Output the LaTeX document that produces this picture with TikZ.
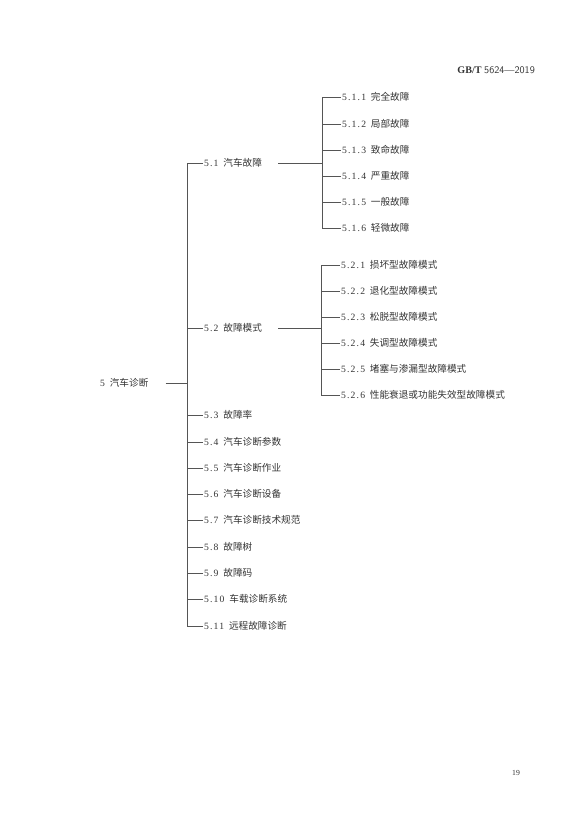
\documentclass[tikz,border=0pt]{standalone}
\usepackage{fontspec}
\setmainfont{Liberation Serif}
\newfontfamily\cjk{Noto Sans CJK SC}
\newfontfamily\numfont[LetterSpace=12]{Liberation Serif}
\usetikzlibrary{positioning,calc}
\definecolor{ink}{HTML}{333333}
\definecolor{rule}{HTML}{555555}
\tikzset{item/.style={anchor=west,inner sep=0pt,text=ink,font=\fontsize{10}{12}\selectfont}}
\tikzset{branch/.style={draw=rule,line width=0.6pt}}
\tikzset{head/.style={anchor=east,inner sep=0pt,text=ink,font=\fontsize{10.5}{12}\selectfont}}
\newcommand{\lab}[2]{{\numfont #1}\hspace{0.5em}{\cjk #2}}

\begin{document}
\begin{tikzpicture}[x=0.03646cm,y=-0.03646cm]
\useasboundingbox (0,0) rectangle (576,825);
\node[head] (hd) at (535,70) {\textbf{GB/T} {\sffamily 5624}—{\sffamily 2019}};
\node[item,font=\fontsize{8}{10}\selectfont] (pg) at (512,773) {19};

\node[item] (r) at (100,383) {\lab{5}{汽车诊断}};
\coordinate (tk) at (187,0);
\coordinate (sk) at (278,0);
\coordinate (t1) at (322,0);
\coordinate (t2) at (321,0);

% main list
\foreach \n/\t/\y in {1/汽车故障/163,2/故障模式/328,3/故障率/415,4/汽车诊断参数/442,5/汽车诊断作业/468,6/汽车诊断设备/494,7/汽车诊断技术规范/520,8/故障树/547,9/故障码/573,10/车载诊断系统/599,11/远程故障诊断/626}
	\node[item] (m\n) at (204,\y) {\lab{5.\n}{\t}};

% 5.1 sub list
\foreach \n/\t/\y in {1/完全故障/97,2/局部故障/124,3/致命故障/150,4/严重故障/176,5/一般故障/202,6/轻微故障/228}
	\node[item] (a\n) at (342,\y) {\lab{5.1.\n}{\t}};

% 5.2 sub list
\foreach \n/\t/\y in {1/损坏型故障模式/265,2/退化型故障模式/291,3/松脱型故障模式/317,4/失调型故障模式/343,5/堵塞与渗漏型故障模式/369,6/性能衰退或功能失效型故障模式/395}
	\node[item] (b\n) at (341,\y) {\lab{5.2.\n}{\t}};

\draw[branch] ($(r.east)+(17,0)$) -- (r.east -| tk);
\draw[branch] (m1.west -| tk) -- (m11.west -| tk);
\foreach \n in {1,...,11}
	\draw[branch] (m\n.west -| tk) -- ([xshift=-1pt]m\n.west);

\draw[branch] (m1 -| sk) -- (m1 -| t1);
\draw[branch] (a1.west -| t1) -- (a6.west -| t1);
\foreach \n in {1,...,6}
	\draw[branch] (a\n.west -| t1) -- ([xshift=-1pt]a\n.west);

\draw[branch] (m2 -| sk) -- (m2 -| t2);
\draw[branch] (b1.west -| t2) -- (b6.west -| t2);
\foreach \n in {1,...,6}
	\draw[branch] (b\n.west -| t2) -- ([xshift=-1pt]b\n.west);
\end{tikzpicture}
\end{document}
